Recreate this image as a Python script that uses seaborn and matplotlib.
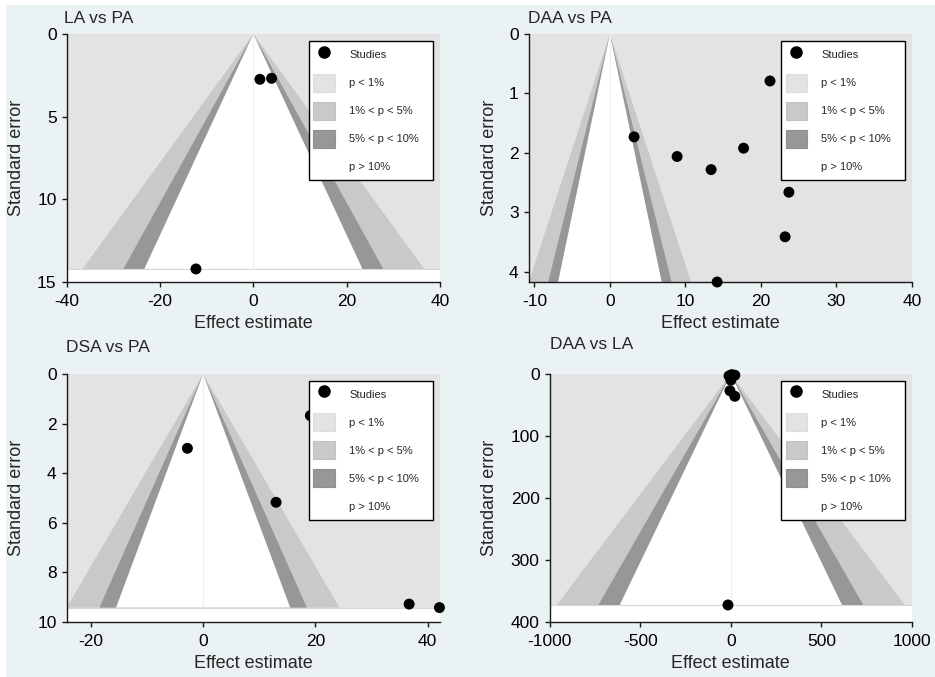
import matplotlib
matplotlib.use("Agg")
import matplotlib.pyplot as plt
from matplotlib.lines import Line2D
from matplotlib.patches import Patch, Rectangle
import seaborn as sns
import pandas as pd

# ---- study data (effect estimate, standard error) ----
la_pa_effect = [1.4, 3.9, -12.3]
la_pa_se = [2.74, 2.68, 14.21]

daa_pa_effect = [21.2, 3.2, 8.9, 13.4, 17.7, 23.7, 23.2, 14.2]
daa_pa_se = [0.79, 1.73, 2.06, 2.28, 1.92, 2.66, 3.41, 4.17]

dsa_pa_effect = [-2.8, 13.0, 19.1, 36.7, 42.1]
dsa_pa_se = [3.0, 5.18, 1.68, 9.29, 9.43]

daa_la_effect = [-10, 5, 22, 0, -5, 22, -16]
daa_la_se = [3, 1, 2, 10, 27, 36, 373]

titles = ["LA vs PA", "DAA vs PA", "DSA vs PA", "DAA vs LA"]
legend_labels = ["Studies", "p < 1%", "1% < p < 5%", "5% < p < 10%", "p > 10%"]

# two-sided z values of the significance contours (1%, 5%, 10%)
z_1, z_5, z_10 = 2.576, 1.960, 1.645

# ---- styling ----
sns.set_style("ticks")
plt.rcParams["font.family"] = ["Liberation Sans", "DejaVu Sans"]
plt.rcParams["axes.unicode_minus"] = False

BG = "#eaf2f3"
C_P1 = "#e3e3e3"
C_P5 = "#c9c9c9"
C_P10 = "#979797"
AX_COL = "#1a1a1a"

W, H = 935, 677
fig = plt.figure(figsize=(W / 100, H / 100), dpi=100, facecolor=BG)
# thin white margin along top and left edges
fig.patches.append(Rectangle((0, 1 - 5 / H), 1, 5 / H, transform=fig.transFigure,
                             facecolor="white", edgecolor="none", zorder=-5))
fig.patches.append(Rectangle((0, 0), 6 / W, 1, transform=fig.transFigure,
                             facecolor="white", edgecolor="none", zorder=-5))


def fx(px):
    return px / W


def fy(py):
    return 1 - py / H


# axes boxes in pixels: left, top, right, bottom
boxes = [(66.7, 34, 440, 282), (528.7, 34, 912, 282),
         (66.7, 374, 440, 621.7), (549.7, 374, 912, 621.7)]
xlims = [(-40, 40), (-10.75, 40), (-24.3, 42.2), (-1000, 1000)]
ylims = [15, 4.17, 10, 400]
xticks = [[-40, -20, 0, 20, 40], [-10, 0, 10, 20, 30, 40],
          [-20, 0, 20, 40], [-1000, -500, 0, 500, 1000]]
yticks = [[0, 5, 10, 15], [0, 1, 2, 3, 4], [0, 2, 4, 6, 8, 10],
          [0, 100, 200, 300, 400]]
title_pos = [(64, 23), (528, 22.7), (65.7, 351.7), (549.7, 349)]
ylabel_x = [17, 489.7, 17, 489.7]
legend_box = [(309, 41.3, 433, 180.3), (781.3, 41.3, 905.3, 180.3),
              (309, 380.7, 433, 519.7), (781.3, 380.7, 905.3, 519.7)]

effects = [la_pa_effect, daa_pa_effect, dsa_pa_effect, daa_la_effect]
ses = [la_pa_se, daa_pa_se, dsa_pa_se, daa_la_se]

handles = [
    Line2D([], [], marker="o", color="black", ls="none", markersize=8),
    Patch(facecolor=C_P1, edgecolor="#dddddd", lw=0.8),
    Patch(facecolor=C_P5, edgecolor="#c2c2c2", lw=0.8),
    Patch(facecolor=C_P10, edgecolor="#8f8f8f", lw=0.8),
    Patch(facecolor="white", edgecolor="white"),
]

for i in range(4):
    l, t, r, b = boxes[i]
    ax = fig.add_axes([fx(l), fy(b), fx(r) - fx(l), fy(t) - fy(b)])
    ax.set_facecolor("white")
    df = pd.DataFrame({"effect": effects[i], "se": ses[i]})
    se_max = df["se"].max()
    x0, x1 = xlims[i]

    # significance contours of the funnel
    ax.fill_between([x0, x1], 0, se_max, color=C_P1, lw=0, zorder=0)
    ax.plot([x0, x1], [se_max, se_max], color="#d8d8d8", lw=0.8, zorder=0.5)
    for z, col in [(z_1, C_P5), (z_5, C_P10), (z_10, "white")]:
        ax.fill([0, -z * se_max, z * se_max], [0, se_max, se_max],
                color=col, lw=0, zorder=1)
    ax.plot([0, 0], [0, se_max], color="#eeeeee", lw=0.8, zorder=1.5)

    sns.scatterplot(data=df, x="effect", y="se", ax=ax, color="black", s=62,
                    edgecolor="none", zorder=3, clip_on=False, legend=False)

    ax.set_xlim(x0, x1)
    ax.set_ylim(ylims[i], 0)
    ax.set_xticks(xticks[i])
    ax.set_yticks(yticks[i])
    sns.despine(ax=ax)
    for s in ["left", "bottom"]:
        ax.spines[s].set_color(AX_COL)
        ax.spines[s].set_linewidth(1.0)
    ax.tick_params(axis="both", direction="out", length=3.8, width=1.0,
                   color=AX_COL, labelsize=12.5, labelcolor="black")
    ax.tick_params(axis="x", pad=5)
    ax.tick_params(axis="y", pad=3.5)

    ax.set_xlabel("Effect estimate", fontsize=13)
    ax.xaxis.label.set_va("baseline")
    ax.xaxis.set_label_coords(fx((l + r) / 2), fy(b + 46.4), transform=fig.transFigure)
    ax.set_ylabel("Standard error", fontsize=13)
    ax.yaxis.label.set_va("center")
    ax.yaxis.set_label_coords(fx(ylabel_x[i]), fy((t + b) / 2), transform=fig.transFigure)

    fig.text(fx(title_pos[i][0]), fy(title_pos[i][1]), titles[i], fontsize=12.5,
             ha="left", va="baseline")

    lx0, ly0, lx1, ly1 = legend_box[i]
    leg = ax.legend(handles, legend_labels, loc="upper left", mode="expand",
                    bbox_to_anchor=(fx(lx0), fy(ly1), fx(lx1) - fx(lx0), fy(ly0) - fy(ly1)),
                    bbox_transform=fig.transFigure, fontsize=8, frameon=True,
                    fancybox=False, framealpha=1, edgecolor="black",
                    handlelength=1.9, handleheight=2.12, labelspacing=0.9,
                    handletextpad=1.3, borderpad=0.4, borderaxespad=0)
    leg.get_frame().set_linewidth(1.0)
    leg.set_zorder(5)

fig.savefig("out.png", dpi=100, facecolor=fig.get_facecolor())
